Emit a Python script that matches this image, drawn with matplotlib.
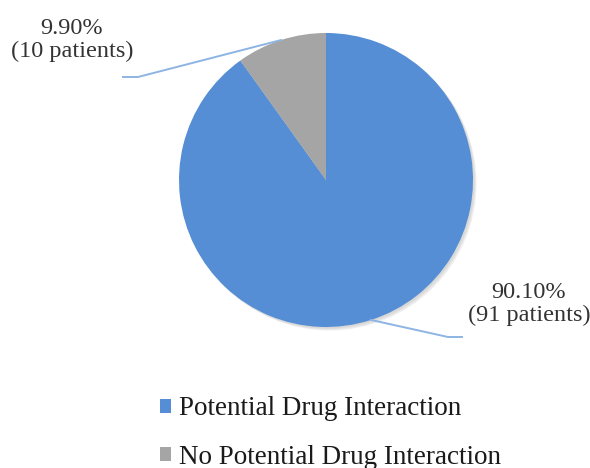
import numpy as np
import matplotlib.pyplot as plt
from matplotlib.patches import Circle

labels = ['Potential Drug Interaction', 'No Potential Drug Interaction']
percents = [90.10, 9.90]
patients = [91, 10]
colors = ['#558ED5', '#A5A5A5']

plt.rcParams['font.family'] = ['Liberation Serif', 'DejaVu Serif']

W, H = 590, 468
fig = plt.figure(figsize=(W / 100, H / 100), dpi=100)
ax = fig.add_axes([0, 0, 1, 1])

cx, cy, r = 326, 288, 147

# soft shadow under the pie
for k, a in enumerate([0.10, 0.10, 0.12]):
    ax.add_patch(Circle((cx + 1.5 + k, cy - 1.5 - k), r, color='#7f7f7f', alpha=a, lw=0, zorder=0))

wedges, _ = ax.pie(percents, colors=colors, startangle=90, counterclock=False,
                   center=(cx, cy), radius=r, frame=True,
                   wedgeprops=dict(linewidth=0))
ax.set_xlim(0, W)
ax.set_ylim(0, H)
ax.set_aspect('equal')
ax.axis('off')

# leader lines + labels
line_col = '#8DB4E2'
elbows = [((448, 131), (462, 131)), ((138, 391), (123, 391))]
text_pos = [(529, 164), (72, 428)]
for w, (elb, end), tp, p, n in zip(wedges, elbows, text_pos, percents, patients):
    mid = np.deg2rad((w.theta1 + w.theta2) / 2)
    sx, sy = cx + r * np.cos(mid), cy + r * np.sin(mid)
    ax.plot([sx, elb[0], end[0]], [sy, elb[1], end[1]], color=line_col, lw=1.4, zorder=3)
    ax.text(tp[0], tp[1], f'{p:.2f}%\n({n} patients)', ha='center', va='center',
            fontsize=17.5, color='#333333', linespacing=1.15)

fig.legend(wedges, labels, loc='center left', bbox_to_anchor=(160 / W, 1 - 433 / H),
           frameon=False, fontsize=19.5, handlelength=0.4, handleheight=0.4,
           handletextpad=0.3, labelspacing=0.85, borderpad=0, borderaxespad=0,
           labelcolor='#1a1a1a')

fig.savefig('out.png', dpi=100)
